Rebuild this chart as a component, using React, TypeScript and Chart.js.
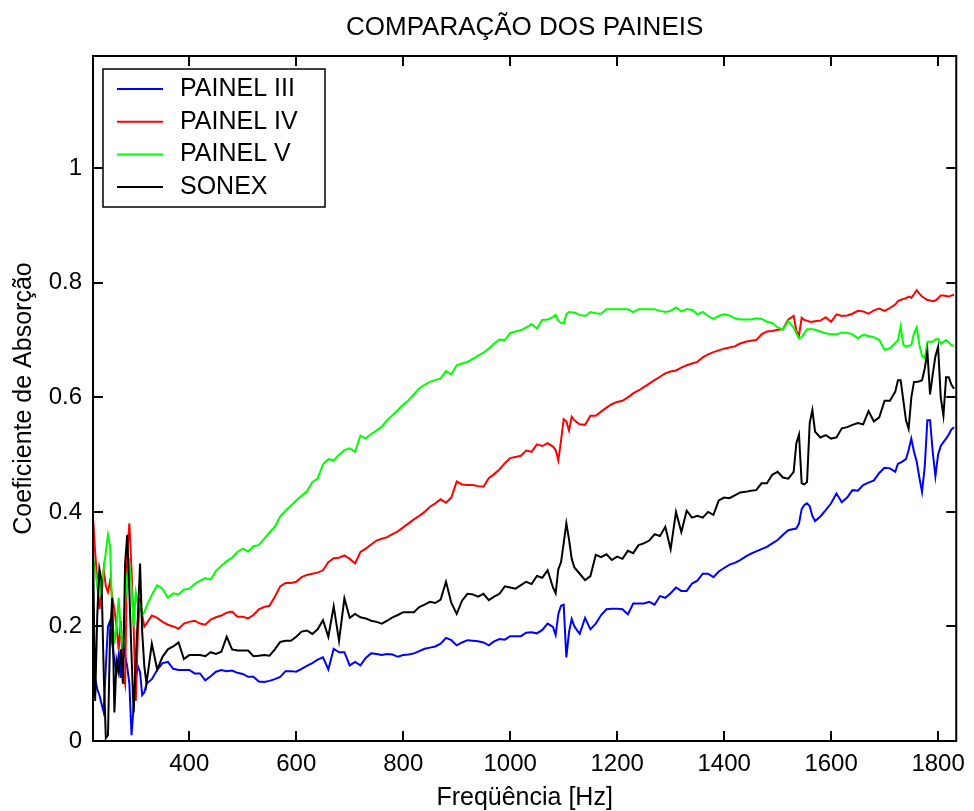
import { useEffect, useRef } from 'react';
import { Chart, registerables } from 'chart.js';

Chart.register(...registerables);

// Frequency grid [Hz]
const FREQ = [
  220, 224, 228, 232, 236, 240, 244, 248, 252, 256, 260, 264, 268, 272, 276, 280, 284, 288, 292, 296, 300, 304, 308, 312, 316, 320,
  330, 340, 350, 360, 370, 380, 390, 400,
  410, 420, 430, 440, 450, 460, 470, 480, 490, 500,
  510, 520, 530, 540, 550, 560, 570, 580, 590, 600,
  610, 620, 630, 640, 650, 660, 670, 680, 690, 700,
  710, 720, 730, 740, 750, 760, 770, 780, 790, 800,
  810, 820, 830, 840, 850, 860, 870, 880, 890, 900,
  910, 920, 930, 940, 950, 960, 970, 980, 990, 1000,
  1010, 1020, 1030, 1040, 1050, 1060, 1070, 1080,
  1085, 1090, 1095, 1100, 1105, 1110, 1115,
  1120, 1130, 1140, 1150, 1160, 1170, 1180, 1190, 1200,
  1210, 1220, 1230, 1240, 1250, 1260, 1270, 1280, 1290, 1300,
  1310, 1320, 1330, 1340, 1350, 1360, 1370, 1380, 1390, 1400,
  1410, 1420, 1430, 1440, 1450, 1460, 1470, 1480, 1490, 1500,
  1510, 1520, 1530,
  1535, 1540, 1545, 1550, 1555, 1560, 1565, 1570,
  1580, 1590, 1600, 1610, 1620, 1630, 1640, 1650, 1660, 1670, 1680, 1690, 1700, 1710, 1720,
  1725, 1730, 1735, 1740, 1745, 1750, 1755, 1760, 1765, 1770, 1775, 1780, 1785, 1790, 1795, 1800, 1805, 1810, 1815, 1820, 1825, 1830,
];

const PAINEL_III = [
  0.13, 0.11, 0.09, 0.08, 0.065, 0.05, 0.13, 0.20, 0.21, 0.17, 0.14, 0.12, 0.15, 0.11, 0.17, 0.15, 0.13, 0.10, 0.01, 0.06, 0.11, 0.13, 0.12, 0.08, 0.085, 0.10,
  0.108, 0.124, 0.136, 0.138, 0.126, 0.124, 0.124, 0.124,
  0.118, 0.118, 0.106, 0.113, 0.121, 0.124, 0.122, 0.123, 0.119, 0.117,
  0.112, 0.112, 0.104, 0.103, 0.105, 0.108, 0.112, 0.122, 0.122, 0.121,
  0.126, 0.131, 0.136, 0.142, 0.146, 0.125, 0.161, 0.155, 0.155, 0.132,
  0.138, 0.132, 0.145, 0.153, 0.152, 0.150, 0.152, 0.151, 0.147, 0.150,
  0.151, 0.153, 0.157, 0.161, 0.163, 0.165, 0.170, 0.180, 0.176, 0.167,
  0.172, 0.176, 0.175, 0.174, 0.172, 0.167, 0.174, 0.178, 0.177, 0.183,
  0.183, 0.183, 0.189, 0.190, 0.188, 0.194, 0.205, 0.199,
  0.185, 0.222, 0.236, 0.238, 0.146, 0.190, 0.213,
  0.200, 0.187, 0.215, 0.195, 0.205, 0.220, 0.230, 0.231, 0.231,
  0.230, 0.221, 0.240, 0.240, 0.240, 0.243, 0.238, 0.253, 0.250, 0.258,
  0.268, 0.262, 0.262, 0.275, 0.280, 0.292, 0.292, 0.286, 0.296, 0.302,
  0.308, 0.311, 0.316, 0.322, 0.327, 0.331, 0.335, 0.339, 0.345, 0.351,
  0.360, 0.368, 0.370,
  0.371, 0.380, 0.405, 0.412, 0.415, 0.410, 0.393, 0.384,
  0.392, 0.403, 0.415, 0.432, 0.417, 0.425, 0.438, 0.437, 0.447, 0.451, 0.455, 0.468, 0.477, 0.476, 0.470,
  0.484, 0.486, 0.489, 0.492, 0.508, 0.528, 0.505, 0.488, 0.460, 0.435, 0.478, 0.560, 0.560, 0.505, 0.462, 0.500, 0.515, 0.522, 0.528, 0.535, 0.544, 0.548,
];

const PAINEL_IV = [
  0.39, 0.33, 0.28, 0.23, 0.26, 0.30, 0.27, 0.26, 0.28, 0.25, 0.23, 0.20, 0.16, 0.21, 0.12, 0.10, 0.33, 0.38, 0.30, 0.20, 0.07, 0.19, 0.25, 0.22, 0.20, 0.205,
  0.219, 0.215, 0.208, 0.203, 0.200, 0.196, 0.205, 0.208,
  0.210, 0.205, 0.203, 0.212, 0.216, 0.219, 0.224, 0.226, 0.217, 0.217,
  0.214, 0.220, 0.230, 0.234, 0.236, 0.252, 0.270, 0.276, 0.276, 0.278,
  0.286, 0.290, 0.292, 0.294, 0.298, 0.312, 0.319, 0.320, 0.324, 0.318,
  0.310, 0.330, 0.336, 0.343, 0.350, 0.353, 0.356, 0.361, 0.366, 0.373,
  0.380, 0.387, 0.393, 0.400, 0.409, 0.415, 0.422, 0.416, 0.425, 0.453,
  0.448, 0.447, 0.447, 0.445, 0.444, 0.459, 0.466, 0.474, 0.485, 0.494,
  0.496, 0.498, 0.507, 0.505, 0.518, 0.515, 0.520, 0.514,
  0.508, 0.490, 0.524, 0.562, 0.558, 0.542, 0.566,
  0.560, 0.553, 0.552, 0.568, 0.568, 0.575, 0.582, 0.588, 0.592,
  0.594, 0.600, 0.607, 0.612, 0.618, 0.624, 0.630, 0.636, 0.642, 0.645,
  0.647, 0.652, 0.656, 0.659, 0.662, 0.670, 0.675, 0.679, 0.682, 0.685,
  0.687, 0.689, 0.694, 0.697, 0.699, 0.700, 0.710, 0.715, 0.716, 0.718,
  0.719, 0.736, 0.742,
  0.716, 0.708, 0.739, 0.735, 0.734, 0.732, 0.732, 0.733,
  0.734, 0.740, 0.732, 0.745, 0.742, 0.743, 0.746, 0.751, 0.750, 0.746, 0.752, 0.755, 0.751, 0.756, 0.762,
  0.768, 0.770, 0.772, 0.773, 0.776, 0.774, 0.780, 0.787, 0.781, 0.776, 0.773, 0.770, 0.769, 0.768, 0.769, 0.773, 0.778, 0.778, 0.777, 0.776, 0.778, 0.779,
];

const PAINEL_V = [
  0.32, 0.30, 0.27, 0.29, 0.25, 0.30, 0.33, 0.36, 0.34, 0.22, 0.17, 0.20, 0.25, 0.19, 0.16, 0.24, 0.29, 0.31, 0.27, 0.20, 0.26, 0.24, 0.24, 0.22, 0.225, 0.235,
  0.255, 0.272, 0.266, 0.250, 0.258, 0.256, 0.264, 0.266,
  0.274, 0.280, 0.284, 0.282, 0.297, 0.306, 0.314, 0.320, 0.330, 0.336,
  0.331, 0.340, 0.342, 0.353, 0.364, 0.374, 0.392, 0.402, 0.411, 0.420,
  0.428, 0.436, 0.452, 0.458, 0.483, 0.492, 0.490, 0.500, 0.508, 0.511,
  0.505, 0.533, 0.528, 0.536, 0.542, 0.549, 0.560, 0.569, 0.578, 0.587,
  0.595, 0.605, 0.616, 0.622, 0.627, 0.630, 0.633, 0.646, 0.640, 0.656,
  0.659, 0.662, 0.667, 0.673, 0.678, 0.685, 0.694, 0.701, 0.700, 0.712,
  0.715, 0.717, 0.722, 0.728, 0.720, 0.735, 0.736, 0.740,
  0.744, 0.734, 0.730, 0.729, 0.745, 0.749, 0.748,
  0.748, 0.744, 0.742, 0.749, 0.747, 0.746, 0.754, 0.754, 0.754,
  0.754, 0.754, 0.749, 0.754, 0.754, 0.754, 0.754, 0.751, 0.749, 0.751,
  0.757, 0.750, 0.754, 0.753, 0.745, 0.749, 0.742, 0.737, 0.742, 0.745,
  0.743, 0.738, 0.736, 0.736, 0.736, 0.738, 0.737, 0.732, 0.730, 0.722,
  0.718, 0.733, 0.722,
  0.712, 0.703, 0.705, 0.712, 0.719, 0.719, 0.719, 0.718,
  0.715, 0.712, 0.710, 0.710, 0.713, 0.713, 0.710, 0.703, 0.709, 0.707, 0.705, 0.700, 0.683, 0.686, 0.695,
  0.700, 0.724, 0.692, 0.688, 0.690, 0.691, 0.712, 0.722, 0.692, 0.672, 0.668, 0.697, 0.697, 0.697, 0.701, 0.702, 0.694, 0.697, 0.700, 0.696, 0.691, 0.690,
];

const SONEX = [
  0.34, 0.07, 0.22, 0.30, 0.28, 0.12, 0.005, 0.01, 0.19, 0.25, 0.05, 0.14, 0.12, 0.16, 0.10, 0.31, 0.36, 0.26, 0.15, 0.05, 0.14, 0.22, 0.31, 0.19, 0.13, 0.10,
  0.170, 0.125, 0.147, 0.160, 0.165, 0.172, 0.143, 0.150,
  0.150, 0.150, 0.148, 0.155, 0.152, 0.156, 0.182, 0.160, 0.158, 0.158,
  0.158, 0.148, 0.149, 0.150, 0.149, 0.160, 0.173, 0.175, 0.175, 0.182,
  0.191, 0.193, 0.187, 0.195, 0.211, 0.182, 0.235, 0.175, 0.249, 0.215,
  0.222, 0.216, 0.214, 0.210, 0.208, 0.205, 0.210, 0.216, 0.220, 0.225,
  0.225, 0.225, 0.234, 0.238, 0.243, 0.241, 0.247, 0.278, 0.241, 0.222,
  0.245, 0.257, 0.256, 0.252, 0.257, 0.246, 0.252, 0.257, 0.270, 0.268,
  0.266, 0.272, 0.278, 0.274, 0.288, 0.285, 0.298, 0.268,
  0.258, 0.300, 0.312, 0.345, 0.380, 0.352, 0.318,
  0.303, 0.292, 0.281, 0.288, 0.325, 0.321, 0.326, 0.316, 0.322,
  0.318, 0.332, 0.328, 0.342, 0.345, 0.350, 0.361, 0.358, 0.374, 0.335,
  0.400, 0.365, 0.402, 0.390, 0.393, 0.390, 0.400, 0.395, 0.420, 0.425,
  0.424, 0.429, 0.434, 0.435, 0.437, 0.438, 0.450, 0.450, 0.465, 0.470,
  0.460, 0.458, 0.470,
  0.520, 0.535, 0.450, 0.448, 0.452, 0.555, 0.578, 0.540,
  0.530, 0.534, 0.528, 0.530, 0.546, 0.548, 0.552, 0.555, 0.553, 0.576, 0.558, 0.565, 0.594, 0.594, 0.610,
  0.630, 0.630, 0.595, 0.560, 0.545, 0.600, 0.627, 0.627, 0.628, 0.630, 0.650, 0.680, 0.605, 0.640, 0.672, 0.688, 0.600, 0.568, 0.635, 0.635, 0.622, 0.615,
];

const SERIES_NAMES = ['PAINEL III', 'PAINEL IV', 'PAINEL V', 'SONEX'];
const SERIES_COLORS = ['#0000ff', '#ff0000', '#00ff00', '#000000'];

const X_TICKS = [400, 600, 800, 1000, 1200, 1400, 1600, 1800];
const Y_TICKS = [0, 0.2, 0.4, 0.6, 0.8, 1];
const Y_TICK_LABELS = ['0', '0.2', '0.4', '0.6', '0.8', '1'];

const TITLE = 'COMPARAÇÃO DOS PAINEIS';
const X_TITLE = 'Freqüência [Hz]';
const Y_TITLE = 'Coeficiente de Absorção';

const FONT = '"Liberation Sans", Arial, Helvetica, sans-serif';

// Box frame with inward ticks on all four sides, boxed legend and title.
const framePlugin = {
  id: 'boxFrame',
  afterDatasetsDraw(chart: any) {
    const { ctx, chartArea: a, scales } = chart;
    const xs = scales.x;
    const ys = scales.y;
    const tick = 10;
    ctx.save();
    ctx.strokeStyle = '#000';
    ctx.lineWidth = 2;
    ctx.strokeRect(a.left, a.top, a.right - a.left, a.bottom - a.top);
    ctx.beginPath();
    X_TICKS.forEach((v) => {
      const px = Math.round(xs.getPixelForValue(v));
      ctx.moveTo(px, a.bottom);
      ctx.lineTo(px, a.bottom - tick);
      ctx.moveTo(px, a.top);
      ctx.lineTo(px, a.top + tick);
    });
    Y_TICKS.forEach((v) => {
      const py = Math.round(ys.getPixelForValue(v));
      ctx.moveTo(a.left, py);
      ctx.lineTo(a.left + tick, py);
      ctx.moveTo(a.right, py);
      ctx.lineTo(a.right - tick, py);
    });
    ctx.stroke();

    // legend
    const lx = a.left + 10;
    const ly = a.top + 13;
    const lw = 222;
    const lh = 138;
    ctx.fillStyle = '#fff';
    ctx.fillRect(lx, ly, lw, lh);
    ctx.lineWidth = 1.5;
    ctx.strokeRect(lx, ly, lw, lh);
    ctx.font = `25px ${FONT}`;
    ctx.textBaseline = 'middle';
    ctx.textAlign = 'left';
    SERIES_NAMES.forEach((name, i) => {
      const cy = ly + 20 + i * 32.7;
      ctx.strokeStyle = SERIES_COLORS[i];
      ctx.lineWidth = 2;
      ctx.beginPath();
      ctx.moveTo(lx + 14, cy);
      ctx.lineTo(lx + 60, cy);
      ctx.stroke();
      ctx.fillStyle = '#000';
      ctx.fillText(name, lx + 77, cy);
    });

    // title
    ctx.font = `26px ${FONT}`;
    ctx.textAlign = 'center';
    ctx.fillStyle = '#000';
    ctx.fillText(TITLE, (a.left + a.right) / 2, 28);
    ctx.restore();
  },
};

export default function App() {
  const canvasRef = useRef<HTMLCanvasElement | null>(null);

  useEffect(() => {
    const canvas = canvasRef.current;
    if (!canvas) return;
    const seriesValues = [PAINEL_III, PAINEL_IV, PAINEL_V, SONEX];
    const datasets = seriesValues.map((vals, i) => ({
      label: SERIES_NAMES[i],
      data: FREQ.map((f, k) => ({ x: f, y: vals[k] })),
      borderColor: SERIES_COLORS[i],
      backgroundColor: SERIES_COLORS[i],
      borderWidth: 2,
      pointRadius: 0,
      tension: 0,
      fill: false,
      order: seriesValues.length - i,
    }));

    const chart = new Chart(canvas, {
      type: 'line',
      data: { datasets },
      options: {
        animation: false,
        responsive: false,
        devicePixelRatio: 1,
        parsing: false,
        layout: { padding: { top: 56, right: 11, left: 0, bottom: 0 } },
        plugins: {
          legend: { display: false },
          title: { display: false },
          tooltip: { enabled: false },
        },
        scales: {
          x: {
            type: 'linear',
            min: 220,
            max: 1834,
            afterBuildTicks: (s: any) => {
              s.ticks = X_TICKS.map((value) => ({ value }));
            },
            afterFit: (s: any) => {
              s.height = 70;
            },
            ticks: {
              color: '#000',
              font: { family: FONT, size: 24 },
              padding: 9,
              maxRotation: 0,
              autoSkip: false,
              callback: (v: any) => String(v),
            },
            grid: { display: false, drawTicks: false },
            border: { display: false },
            title: {
              display: true,
              text: X_TITLE,
              color: '#000',
              font: { family: FONT, size: 25, lineHeight: 1 },
              padding: 0,
            },
          },
          y: {
            type: 'linear',
            min: 0,
            max: 1.196,
            afterBuildTicks: (s: any) => {
              s.ticks = Y_TICKS.map((value) => ({ value }));
            },
            afterFit: (s: any) => {
              s.width = 93;
            },
            ticks: {
              color: '#000',
              font: { family: FONT, size: 24 },
              padding: 11,
              autoSkip: false,
              callback: (_v: any, i: number) => Y_TICK_LABELS[i],
            },
            grid: { display: false, drawTicks: false },
            border: { display: false },
            title: {
              display: true,
              text: Y_TITLE,
              color: '#000',
              font: { family: FONT, size: 25, lineHeight: 1 },
              padding: { top: 12, bottom: 0 },
            },
          },
        },
      },
      plugins: [framePlugin],
    });

    return () => chart.destroy();
  }, []);

  return (
    <div style={{ position: 'absolute', left: 0, top: 0, width: 974, height: 811, background: '#fff' }}>
      <canvas ref={canvasRef} width={974} height={811} style={{ width: 974, height: 811, display: 'block' }} />
    </div>
  );
}
